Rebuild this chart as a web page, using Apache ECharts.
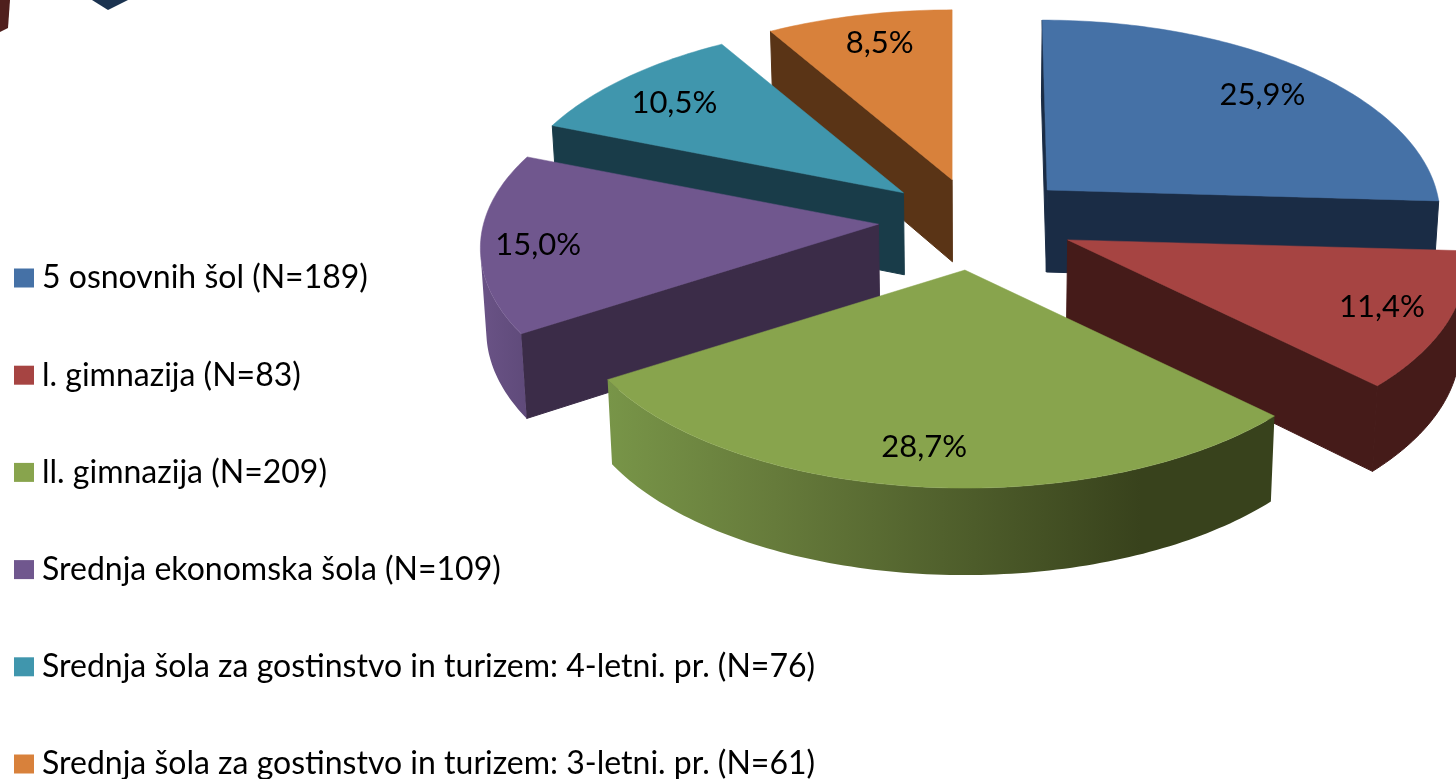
<!DOCTYPE html>
<html>
<head>
<meta charset="utf-8">
<style>html,body{margin:0;padding:0;background:#fff}#c{width:1456px;height:779px}</style>
<script src="https://cdn.jsdelivr.net/npm/echarts@6/dist/echarts.min.js"></script>
</head>
<body>
<div id="c"></div>
<script>
const categories = ['5 osnovnih šol (N=189)','l. gimnazija (N=83)','ll. gimnazija (N=209)','Srednja ekonomska šola (N=109)','Srednja šola za gostinstvo in turizem: 4-letni. pr. (N=76)','Srednja šola za gostinstvo in turizem: 3-letni. pr. (N=61)'];
const shares = [25.9, 11.4, 28.7, 15.0, 10.5, 8.5];
const topColors = ['#4571a6','#a64442','#88a44d','#70578e','#4096ad','#d8813b'];
const sideColors = ['#1a2c45','#451b19','#38421c','#3b2c48','#193c49','#5a3416'];

const CX = 976, CY = 222.7, RX = 395, RY = 191, PERSP = 0.124, EX = 98, EY = 47.6;
const drawZ = [4, 5, 7, 3, 2, 1];
const sliceNudge = [[0,0],[2,-2],[-1,0],[0,-3],[2,1],[2,3]];
const labelNudge = [[7,3],[6,2],[-3,1],[-18,6],[-4,3],[3,-4]];
const rimScale = [0.985,1,1,1,1,1];
const rimShear = [-5,0,0,0,0,0];

function renderSlice(idx) {
  function project(deg, r, ax, ay) {
    const t = deg * Math.PI / 180, u = Math.sin(t), v = Math.cos(t);
    const s = 1 / (1 + PERSP * v);
    return [ax + (RX * rimScale[idx] * u * s + rimShear[idx] * v) * r, ay - RY * r * v * s, v];
  }
  const lower = p => [CX + (p[0] - CX) * 0.988, p[1] + 82 - 5 * (p[2] || 0)];
  return function (params, api) {
    const share = api.value(0), start = api.value(1) * 3.6, end = start + share * 3.6;
    const mid = (start + end) / 2 * Math.PI / 180;
    const ax = CX + EX * Math.sin(mid) + sliceNudge[idx][0], ay = CY - EY * Math.cos(mid) + sliceNudge[idx][1];
    const apex = [ax, ay, 0];
    const arc = [];
    const steps = Math.ceil(end - start);
    for (let i = 0; i <= steps; i++) arc.push(project(start + (end - start) * i / steps, 1, ax, ay));
    const rim = arc.map(p => [p[0], p[1]]);
    const wall = p => ({ type: 'polygon', shape: { points: [[apex[0], apex[1]], [p[0], p[1]], lower(p), lower(apex)] },
      style: { fill: sideColors[idx], stroke: sideColors[idx], lineWidth: 1 } });
    let outerFill = sideColors[idx], outerStroke = sideColors[idx];
    if (idx === 2) { outerStroke = null; outerFill = { type: 'linear', x: 0, y: 0, x2: 1, y2: 0, colorStops: [
      { offset: 0, color: '#789548' }, { offset: 0.25, color: '#667b3b' }, { offset: 0.8, color: '#38421c' }, { offset: 1, color: '#38421c' }] }; }
    if (idx === 3) { outerStroke = null; outerFill = { type: 'linear', x: 0, y: 0, x2: 1, y2: 0, colorStops: [
      { offset: 0, color: '#6a5386' }, { offset: 1, color: '#5f4a7a' }] }; }
    const front = arc.filter(p => p[2] < -0.15);
    const children = [];
    if (start > 180 || start === 0) children.push(wall(arc[0]));
    if (end < 180) children.push(wall(arc[arc.length - 1]));
    if (front.length > 1) children.push({ type: 'polygon',
      shape: { points: front.map(p => [p[0], p[1]]).concat(front.map(lower).reverse()) },
      style: { fill: outerFill, stroke: outerStroke, lineWidth: outerStroke ? 1 : 0 } });
    const lab = project((start + end) / 2, 0.81, ax, ay);
    children.push(
      { type: 'polygon', shape: { points: [[apex[0], apex[1]]].concat(rim) }, style: { fill: topColors[idx], stroke: topColors[idx], lineWidth: 0.5 } },
      { type: 'text', style: { text: share.toFixed(1).replace('.', ',') + '%', x: lab[0] + labelNudge[idx][0], y: lab[1] + labelNudge[idx][1], align: 'center', verticalAlign: 'middle', font: '31px Lato', fill: '#000' } }
    );
    return { type: 'group', children };
  };
}

let cum = 0;
const series = categories.map((name, i) => {
  const s = {
    type: 'custom', name, coordinateSystem: 'none', z: drawZ[i] + 1, animation: false, silent: true,
    itemStyle: { color: topColors[i] },
    data: [[shares[i], cum]], renderItem: renderSlice(i), clip: false
  };
  cum += shares[i];
  return s;
});

const chart = echarts.init(document.getElementById('c'), null, { renderer: 'canvas' });
chart.setOption({
  animation: false,
  backgroundColor: '#fff',
  legend: {
    orient: 'vertical', left: 14, top: 262, height: 560, padding: 0, data: categories, icon: 'rect', itemWidth: 20, itemHeight: 19, itemGap: 65.2,
    selectedMode: false,
    textStyle: { fontFamily: 'Lato', fontSize: 32, color: '#000', padding: [0, 0, 0, 3] }
  },
  graphic: [
    { type: 'polygon', silent: true, shape: { points: [[0,0],[10,0],[8,28],[0,32]] }, style: { fill: '#4f1f1d' } },
    { type: 'polygon', silent: true, shape: { points: [[92,0],[128,0],[108,10]] }, style: { fill: '#1b3350' } }
  ],
  series
});
</script>
</body>
</html>
